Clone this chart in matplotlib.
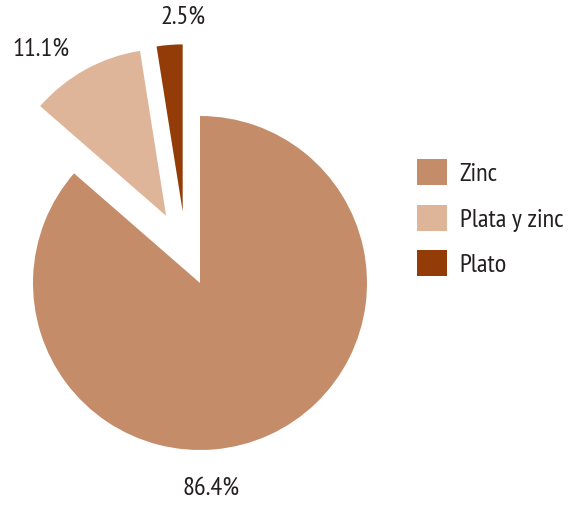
import matplotlib.pyplot as plt

names = ["Zinc", "Plata y zinc", "Plato"]
shares = [86.4, 11.1, 2.5]
pct_labels = ["86.4%", "11.1%", "2.5%"]
colors = ["#C58C69", "#DEB599", "#933C07"]

plt.rcParams["font.family"] = ["PT Sans Narrow", "DejaVu Sans"]

fig = plt.figure(figsize=(5.74, 5.05), dpi=100)
ax = fig.add_axes([0, 0, 1, 1])

wedges, _ = ax.pie(shares, colors=colors, startangle=90, counterclock=False,
                   explode=[0, 0.46, 0.43], radius=1.0,
                   wedgeprops=dict(linewidth=0))

# pull the small slice a bit further left so the gap to zinc opens up
cx, cy = wedges[2].center
wedges[2].set_center((cx - 0.07, cy))
# nudge the plata slice right a little
cx, cy = wedges[1].center
wedges[1].set_center((cx + 0.02, cy))

# percent labels placed by hand around the pie
label_pos = [(0.066, -1.23), (-0.95, 1.40), (-0.10, 1.59)]
for (x, y), t in zip(label_pos, pct_labels):
    ax.text(x, y, t, ha="center", va="center", fontsize=19, color="#231F20")

ax.set_xlim(-200 / 167, 374 / 167)
ax.set_ylim(-222 / 167, 283 / 167)
ax.set_aspect("equal")
ax.axis("off")

leg = ax.legend(wedges, names, loc="upper left", bbox_to_anchor=(0.726, 0.685),
                frameon=False, fontsize=19, handlelength=1.13, handleheight=1.13,
                labelspacing=0.71, handletextpad=0.5, borderaxespad=0, borderpad=0)
for txt in leg.get_texts():
    txt.set_color("#231F20")

fig.savefig("out.png", dpi=100)
